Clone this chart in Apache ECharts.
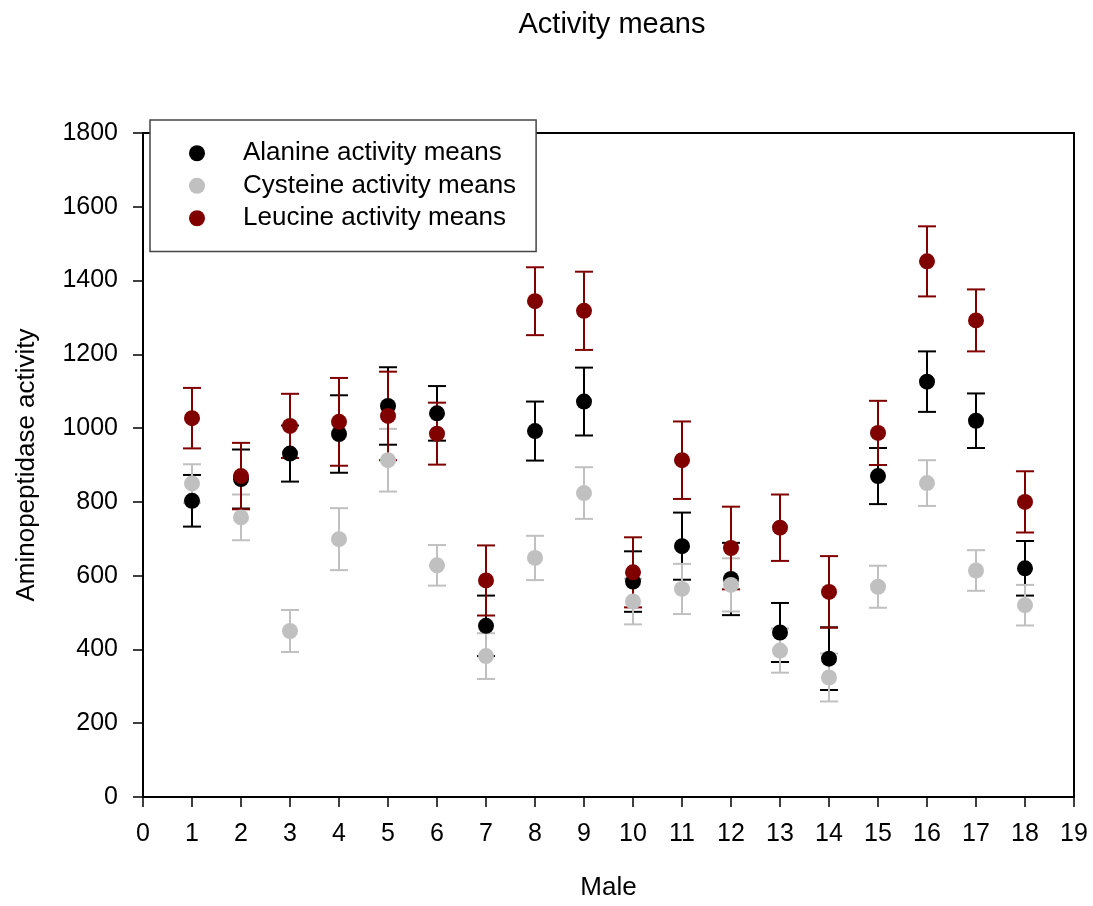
<!DOCTYPE html>
<html>
<head>
<meta charset="utf-8">
<script src="https://cdn.jsdelivr.net/npm/echarts@6/dist/echarts.min.js"></script>
<style>
  html, body { margin: 0; padding: 0; background: #fff; }
  #chart { width: 1093px; height: 906px; }
</style>
</head>
<body>
<div id="chart"></div>
<script>
// ---- Data ----
const males = [1, 2, 3, 4, 5, 6, 7, 8, 9, 10, 11, 12, 13, 14, 15, 16, 17, 18];
const seriesNames = ['Alanine activity means', 'Cysteine activity means', 'Leucine activity means'];

const alanineMean = [803, 862, 931, 984, 1060, 1040, 464, 992, 1072, 584, 680, 591, 446, 375, 870, 1126, 1020, 620];
const alanineErr  = [70, 80, 76, 105, 105, 74, 82, 80, 92, 82, 91, 98, 80, 85, 76, 82, 74, 74];

const cysteineMean = [850, 758, 450, 699, 913, 628, 382, 648, 824, 530, 564, 575, 397, 324, 570, 851, 614, 520];
const cysteineErr  = [52, 62, 57, 84, 85, 55, 62, 60, 70, 62, 68, 72, 60, 65, 57, 62, 55, 55];

const leucineMean = [1027, 870, 1006, 1017, 1033, 985, 587, 1344, 1318, 609, 913, 675, 730, 556, 987, 1452, 1292, 800];
const leucineErr  = [82, 90, 87, 119, 120, 84, 95, 92, 106, 95, 105, 112, 90, 97, 87, 95, 84, 83];

// ---- Styles ----
const FONT = "'Liberation Sans', Arial, Helvetica, sans-serif";
const colors = ['#000000', '#c0c0c0', '#800000'];

function errSeries(name, means, errs, color) {
  return {
    name: name,
    type: 'custom',
    data: means.map((m, i) => [males[i], m - errs[i], m + errs[i]]),
    encode: { x: 0, y: [1, 2] },
    silent: true,
    renderItem: function (params, api) {
      const x = api.value(0);
      const lo = api.coord([x, api.value(1)]);
      const hi = api.coord([x, api.value(2)]);
      const hw = 9;
      const st = { stroke: color, lineWidth: 2 };
      return {
        type: 'group',
        children: [
          { type: 'line', shape: { x1: lo[0], y1: lo[1], x2: hi[0], y2: hi[1] }, style: st },
          { type: 'line', shape: { x1: hi[0] - hw, y1: hi[1], x2: hi[0] + hw, y2: hi[1] }, style: st },
          { type: 'line', shape: { x1: lo[0] - hw, y1: lo[1], x2: lo[0] + hw, y2: lo[1] }, style: st }
        ]
      };
    }
  };
}

function pointSeries(name, means, color) {
  return {
    name: name,
    type: 'scatter',
    symbol: 'circle',
    symbolSize: 16,
    itemStyle: { color: color, opacity: 1 },
    data: means.map((m, i) => [males[i], m])
  };
}

const chart = echarts.init(document.getElementById('chart'), null, { renderer: 'canvas' });

const option = {
  animation: false,
  backgroundColor: '#ffffff',
  title: {
    text: 'Activity means',
    left: 607,
    top: 5,
    textAlign: 'center',
    textStyle: { fontFamily: FONT, fontSize: 29, fontWeight: 'normal', color: '#000' }
  },
  legend: {
    orient: 'vertical',
    left: 150,
    top: 120,
    padding: [17, 20, 17, 39],
    itemGap: 0,
    itemWidth: 16,
    itemHeight: 16,
    icon: 'circle',
    borderColor: '#444',
    borderWidth: 1.5,
    backgroundColor: '#fff',
    data: seriesNames,
    selectedMode: false,
    textStyle: { fontFamily: FONT, fontSize: 26, color: '#000', lineHeight: 32.5, padding: [0, 0, 0, 33] }
  },
  grid: {
    left: 143,
    right: 19,
    top: 133,
    bottom: 104,
    show: true,
    borderColor: '#000',
    borderWidth: 2,
    backgroundColor: 'transparent'
  },
  xAxis: {
    type: 'value',
    min: 0,
    max: 19,
    interval: 1,
    name: 'Male',
    nameLocation: 'middle',
    nameGap: 78,
    nameTextStyle: { fontFamily: FONT, fontSize: 26, color: '#000' },
    axisLine: { lineStyle: { color: '#000', width: 2 } },
    axisTick: { show: true, inside: false, length: 10, lineStyle: { color: '#000', width: 1.5 } },
    axisLabel: { margin: 25, fontFamily: FONT, fontSize: 25, color: '#000' },
    splitLine: { show: false }
  },
  yAxis: {
    type: 'value',
    min: 0,
    max: 1800,
    interval: 200,
    name: 'Aminopeptidase activity',
    nameLocation: 'middle',
    nameGap: 103,
    nameTextStyle: { fontFamily: FONT, fontSize: 26, color: '#000' },
    axisLine: { show: true, lineStyle: { color: '#000', width: 2 } },
    axisTick: { show: true, inside: false, length: 10, lineStyle: { color: '#000', width: 1.5 } },
    axisLabel: { margin: 25, fontFamily: FONT, fontSize: 25, color: '#000', formatter: function (v) { return String(v); } },
    splitLine: { show: false }
  },
  series: [
    errSeries('Alanine error', alanineMean, alanineErr, colors[0]),
    pointSeries(seriesNames[0], alanineMean, colors[0]),
    errSeries('Cysteine error', cysteineMean, cysteineErr, colors[1]),
    pointSeries(seriesNames[1], cysteineMean, colors[1]),
    errSeries('Leucine error', leucineMean, leucineErr, colors[2]),
    pointSeries(seriesNames[2], leucineMean, colors[2])
  ]
};

chart.setOption(option);
</script>
</body>
</html>
